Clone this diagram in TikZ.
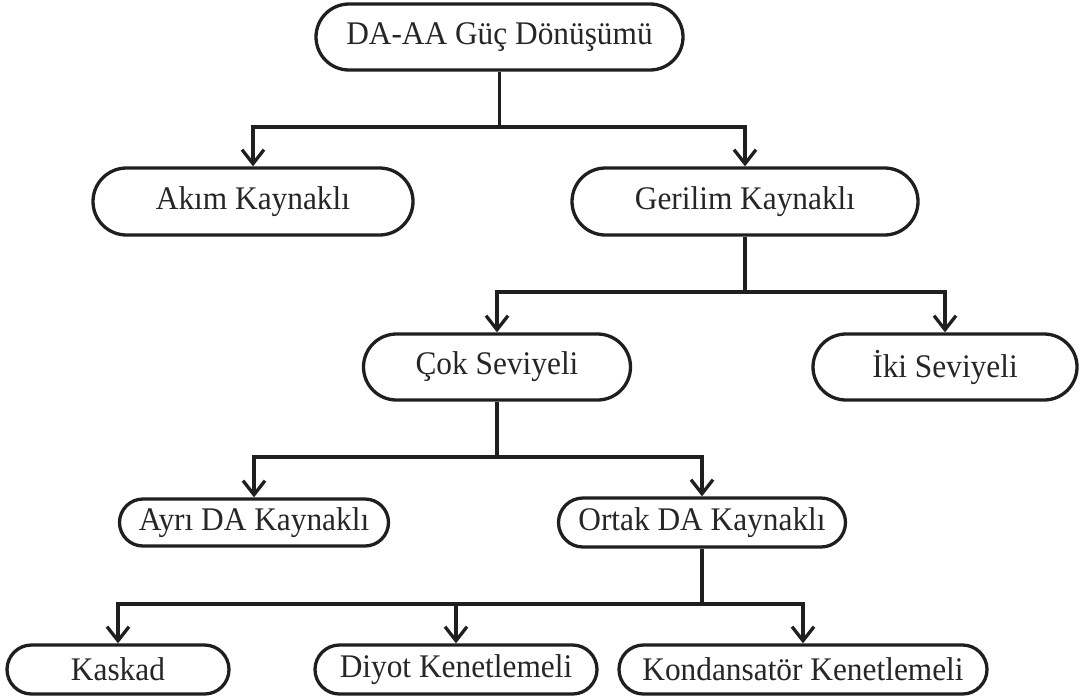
\documentclass[tikz,border=0pt]{standalone}
\usepackage{fontspec}
\setmainfont{Liberation Serif}[FakeStretch=0.95]
\usetikzlibrary{arrows.meta,shapes.misc}
\begin{document}
\begin{tikzpicture}[x=1pt,y=-1pt,
  box/.style={rounded rectangle,rounded rectangle arc length=180,
    draw=black!88,line width=3.3pt,fill=white,
    inner sep=0pt,font=\fontsize{33}{38}\selectfont,text=black!85},
  conn/.style={draw=black!88,line width=3.3pt,line join=miter},
  arr/.style={conn,-{Straight Barb[length=14pt,width=22pt]}}]
\useasboundingbox (0,0) rectangle (1083,699);

% level 0
\node[box,minimum width=367pt,minimum height=66pt] (root) at (499.5,37) {DA-AA Güç Dönüşümü};
% level 1
\node[box,minimum width=320pt,minimum height=67pt] (akim) at (253,201.5) {Akım Kaynaklı};
\node[box,minimum width=346pt,minimum height=67pt] (gerilim) at (745,201.5) {Gerilim Kaynaklı};
% level 2
\node[box,minimum width=267pt,minimum height=66pt] (cok) at (497,367) {Çok Seviyeli};
\node[box,minimum width=264pt,minimum height=66pt] (iki) at (945,367) {İki Seviyeli};
% level 3
\node[box,minimum width=269pt,minimum height=47pt] (ayri) at (254,522.5) {Ayrı DA Kaynaklı};
\node[box,minimum width=287pt,minimum height=49pt] (ortak) at (702,522.5) {Ortak DA Kaynaklı};
% level 4
\node[box,minimum width=222pt,minimum height=49pt] (kaskad) at (118,669.5) {Kaskad};
\node[box,minimum width=282pt,minimum height=49pt] (diyot) at (456,669.5) {Diyot Kenetlemeli};
\node[box,minimum width=368pt,minimum height=49pt] (kond) at (803,669.5) {Kondansatör Kenetlemeli};

% junction points of the branches
\coordinate (j0) at (499.5,127);
\coordinate (j1) at (745,292);
\coordinate (j2) at (497,457);
\coordinate (j3) at (702,604);

\draw[conn] (root.south) -- (j0);
\draw[arr] (j0) -| (akim.north);
\draw[arr] (j0) -| (gerilim.north);

\draw[conn] (gerilim.south) -- (j1);
\draw[arr] (j1) -| (cok.north);
\draw[arr] (j1) -| (iki.north);

\draw[conn] (cok.south) -- (j2);
\draw[arr] (j2) -| (ayri.north);
\draw[arr] (j2) -| (ortak.north);

\draw[conn] (ortak.south) -- (j3);
\draw[arr] (j3) -| (kaskad.north);
\draw[arr] (j3) -| (diyot.north);
\draw[arr] (j3) -| (kond.north);
\end{tikzpicture}
\end{document}
